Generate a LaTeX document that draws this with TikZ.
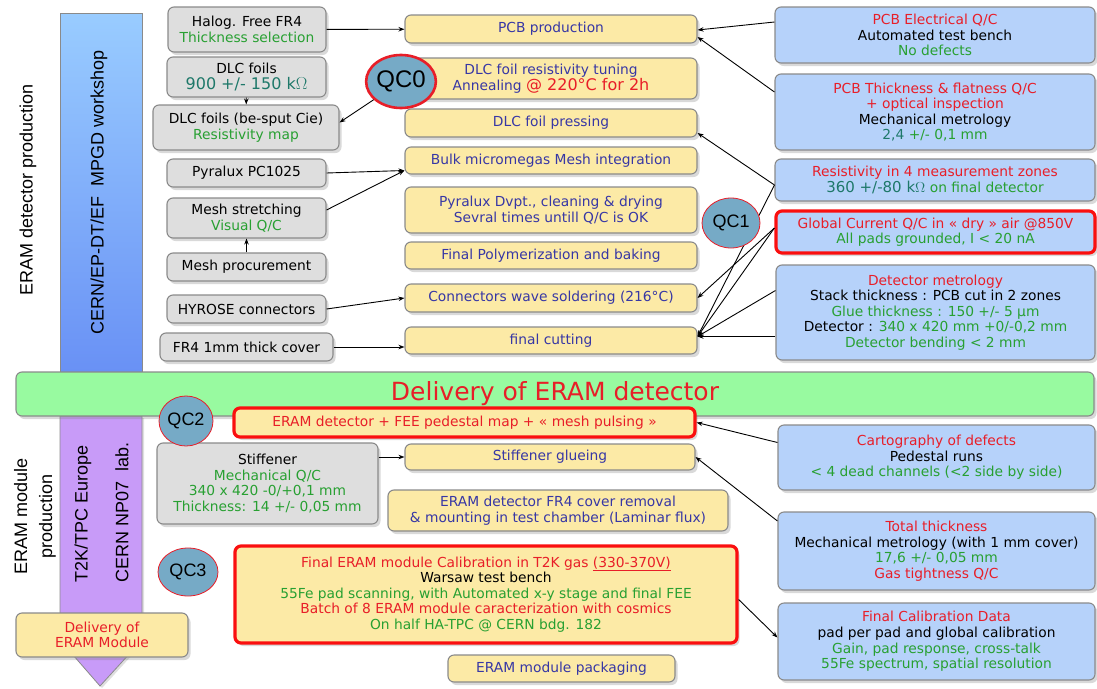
\documentclass[tikz,border=0pt]{standalone}
\usepackage{fontspec}
\setmainfont{DejaVu Sans}
\newfontfamily\arialf{Liberation Sans}
\usetikzlibrary{shapes.geometric,shadows,arrows.meta,calc}
\definecolor{gfill}{RGB}{222,222,222}
\definecolor{yfill}{RGB}{252,234,166}
\definecolor{bfill}{RGB}{182,210,250}
\definecolor{grfill}{RGB}{152,250,160}
\definecolor{pfill}{RGB}{200,155,248}
\definecolor{btop}{RGB}{153,204,255}
\definecolor{bbot}{RGB}{105,145,245}
\definecolor{qcfill}{RGB}{118,170,198}
\definecolor{bordc}{RGB}{138,138,138}
\definecolor{tblue}{RGB}{55,55,165}
\definecolor{tred}{RGB}{232,30,40}
\definecolor{tgreen}{RGB}{40,160,50}
\definecolor{tteal}{RGB}{30,120,105}
\definecolor{fred}{RGB}{250,15,15}
\newcommand{\mfs}{\fontsize{13.8}{15.6}\selectfont}
\newcommand{\bfs}{\fontsize{16}{15.6}\selectfont}
\begin{document}
\begin{tikzpicture}[x=1pt,y=-1pt,
  box/.style={rounded corners=6pt, draw=bordc, line width=1.1pt, align=center, inner sep=2pt, font=\mfs,
    drop shadow={shadow xshift=2.5pt,shadow yshift=-3pt,opacity=0.3}},
  gbox/.style={box, fill=gfill},
  ybox/.style={box, fill=yfill, text=tblue},
  bbox/.style={box, fill=bfill},
  redframe/.style={draw=fred, line width=3.2pt},
  qc/.style={ellipse, draw=tred, line width=0.8pt, fill=qcfill, inner sep=0pt, font=\arialf\fontsize{18}{20}\selectfont},
  arr/.style={-{Stealth[length=6pt,width=4.5pt]}, line width=0.9pt},
  vlabel/.style={rotate=90, font=\arialf\fontsize{18}{25}\selectfont, inner sep=0pt}
]
\useasboundingbox (0,0) rectangle (1097,688);

% vertical bars
\draw[bordc, line width=0.8pt, top color=btop, bottom color=bbot] (60,13) rectangle (142,372);
\draw[bordc, line width=0.8pt, fill=pfill, drop shadow={shadow xshift=2pt,shadow yshift=-2pt,opacity=0.25}]
  (60,416) -- (142,416) -- (142,640) -- (100,686) -- (60,640) -- cycle;

\node[vlabel] (lblcern) at (99,192) {CERN/EP-DT/EF\ \ MPGD workshop};
\node[vlabel] (lblprod) at (28,190) {ERAM detector production};
\node[vlabel, align=center] (lblmod) at (35,516) {ERAM module\\production};
\node[vlabel, anchor=west] (lblt2k) at (83,583) {T2K/TPC Europe};
\node[vlabel, anchor=west] (lblnp) at (122,583) {CERN NP07\ \ lab.};

% green bar
\node[box, fill=grfill, minimum width=1078pt, minimum height=44pt, font=\fontsize{25}{28}\selectfont, text=tred] (deliv) at (555,394) {Delivery of ERAM detector};

% gray boxes
\node[gbox, minimum width=158pt, minimum height=45pt] (halog) at (247,29.5) {Halog. Free FR4\\\textcolor{tgreen}{Thickness selection}};
\node[gbox, minimum width=159pt, minimum height=40pt] (dlc) at (246.5,77) {DLC foils\\{\bfs\textcolor{tteal}{900 +/- 150 k$\Omega$}}};
\node[gbox, minimum width=186pt, minimum height=45pt] (dlcb) at (246,127.5) {DLC foils (be-sput Cie)\\\textcolor{tgreen}{Resistivity map}};
\node[gbox, minimum width=159pt, minimum height=28pt] (pyr) at (246.5,173) {Pyralux PC1025};
\node[gbox, minimum width=159pt, minimum height=40pt] (mesh) at (246.5,218) {Mesh stretching\\\textcolor{tgreen}{Visual Q/C}};
\node[gbox, minimum width=159pt, minimum height=28pt] (meshp) at (246.5,267) {Mesh procurement};
\node[gbox, minimum width=159pt, minimum height=28pt] (hyr) at (246.5,309) {HYROSE connectors};
\node[gbox, minimum width=173pt, minimum height=28pt] (fr4) at (246.5,347) {FR4 1mm thick cover};
\node[gbox, minimum width=221pt, minimum height=81pt] (stiff) at (267.5,483.5) {Stiffener\\\textcolor{tgreen}{Mechanical Q/C}\\\textcolor{tgreen}{340 x 420 -0/+0,1 mm}\\\textcolor{tgreen}{Thickness: 14 +/- 0,05 mm}};

% yellow boxes
\node[ybox, minimum width=292pt, minimum height=28pt] (pcb) at (551,29) {PCB production};
\node[ybox, minimum width=292pt, minimum height=41pt] (dlct) at (551,78.5) {DLC foil resistivity tuning\\Annealing {\bfs\textcolor{tred}{@ 220°C for 2h}}};
\node[ybox, minimum width=292pt, minimum height=28pt] (dlcp) at (551,123) {DLC foil pressing};
\node[ybox, minimum width=292pt, minimum height=27pt] (bulk) at (551,160.5) {Bulk micromegas Mesh integration};
\node[ybox, minimum width=292pt, minimum height=46pt] (pyrd) at (551,210) {Pyralux Dvpt., cleaning \& drying\\Sevral times untill Q/C is OK};
\node[ybox, minimum width=292pt, minimum height=27pt] (poly) at (551,255.5) {Final Polymerization and baking};
\node[ybox, minimum width=292pt, minimum height=28pt] (conn) at (551,298) {Connectors wave soldering (216°C)};
\node[ybox, minimum width=292pt, minimum height=27pt] (cut) at (551,340.5) {final cutting};
\node[ybox, redframe, minimum width=461pt, minimum height=29pt, text=tred] (fee) at (464.5,422.5) {ERAM detector + FEE pedestal map + « mesh pulsing »};
\node[ybox, minimum width=290pt, minimum height=26pt] (glue) at (550,457) {Stiffener glueing};
\node[ybox, minimum width=340pt, minimum height=41pt] (cover) at (558,510.5) {ERAM detector FR4 cover removal\\\& mounting in test chamber (Laminar flux)};
\node[ybox, redframe, minimum width=502pt, minimum height=97pt, text=black] (calib) at (486,594.5) {\textcolor{tred}{Final ERAM module Calibration in T2K gas \underline{(330-370V)}}\\Warsaw test bench\\\textcolor{tgreen}{55Fe pad scanning, with Automated x-y stage and final FEE}\\\textcolor{tred}{Batch of 8 ERAM module caracterization with cosmics}\\\textcolor{tgreen}{On half HA-TPC @ CERN bdg. 182}};
\node[ybox, minimum width=227pt, minimum height=27pt] (pack) at (561.5,668.5) {ERAM module packaging};
\node[ybox, minimum width=172pt, minimum height=44pt, text=tred] (delmod) at (102,635) {Delivery of\\ERAM Module};

% blue boxes
\node[bbox, minimum width=320pt, minimum height=56pt] (elec) at (935,35) {\textcolor{tred}{PCB Electrical Q/C}\\Automated test bench\\\textcolor{tgreen}{No defects}};
\node[bbox, minimum width=320pt, minimum height=76pt] (thick) at (935,112) {\textcolor{tred}{PCB Thickness \& flatness Q/C}\\\textcolor{tred}{+ optical inspection}\\Mechanical metrology\\\textcolor{tteal}{2,4} \textcolor{tgreen}{+/- 0,1 mm}};
\node[bbox, minimum width=320pt, minimum height=42pt] (resist) at (935,180) {\textcolor{tred}{Resistivity in 4 measurement zones}\\{\fontsize{15}{15.6}\selectfont\textcolor{tteal}{360 +/-80 k$\Omega$}} \textcolor{tgreen}{on final detector}};
\node[bbox, redframe, minimum width=319pt, minimum height=42pt] (glob) at (935.5,232) {\textcolor{tred}{Global Current Q/C in « dry » air @850V}\\\textcolor{tgreen}{All pads grounded, I < 20 nA}};
\node[bbox, minimum width=319pt, minimum height=95pt] (metro) at (935.5,312.5) {\textcolor{tred}{Detector metrology}\\Stack thickness : PCB cut in 2 zones\\\textcolor{tgreen}{Glue thickness : 150 +/- 5 µm}\\Detector : \textcolor{tgreen}{340 x 420 mm +0/-0,2 mm}\\\textcolor{tgreen}{Detector bending < 2 mm}};
\node[bbox, minimum width=317pt, minimum height=65pt] (carto) at (936.5,457.5) {\textcolor{tred}{Cartography of defects}\\Pedestal runs\\\textcolor{tgreen}{< 4 dead channels (<2 side by side)}};
\node[bbox, minimum width=317pt, minimum height=78pt] (tot) at (936.5,551) {\textcolor{tred}{Total thickness}\\Mechanical metrology (with 1 mm cover)\\\textcolor{tgreen}{17,6 +/- 0,05 mm}\\\textcolor{tred}{Gas tightness Q/C}};
\node[bbox, minimum width=317pt, minimum height=77pt] (fcal) at (936.5,641.5) {\textcolor{tred}{Final Calibration Data}\\pad per pad and global calibration\\\textcolor{tgreen}{Gain, pad response, cross-talk}\\\textcolor{tgreen}{55Fe spectrum, spatial resolution}};

% connectors
\draw[arr] (halog) -- (pcb);
\draw[arr] (dlc) -- (dlcb);
\draw[arr] (pyr.east) -- ([yshift=-10pt]bulk.west);
\draw[arr] ([yshift=8pt]mesh.east) -- ([yshift=-10pt]bulk.west);
\draw[arr] (meshp) -- (mesh);
\draw[arr] (hyr.east) -- (conn.west);
\draw[arr] (fr4.east) -- (fr4.east -| cut.west);
\draw[arr] ([yshift=13pt]elec.west) -- ([yshift=-1pt]pcb.east);
\draw[arr] ([yshift=20pt]thick.west) -- ([yshift=-8pt]pcb.east);
\draw[arr] ([yshift=-5pt]resist.west) -- ([yshift=-10pt]dlcp.east);
\draw[arr] ([yshift=-5pt]resist.west) -- ([yshift=4pt]cut.east);
\draw[arr] ([yshift=4pt]glob.west) -- (conn.east);
\draw[arr] ([yshift=4pt]glob.west) -- ([yshift=4pt]cut.east);
\draw[arr] ([yshift=22pt]metro.west) -- ([yshift=4pt]cut.east);
\draw[arr] ([yshift=-24pt]metro.west) -- ([yshift=4pt]cut.east);
\draw[arr] (stiff.east |- glue.west) -- (glue.west);
\draw[arr] ([yshift=15pt]carto.west) -- (fee.east);
\draw[arr] ([yshift=30pt]tot.west) -- (glue.east);
\draw[arr] ([yshift=-5pt]calib.east) -- ([yshift=4pt]fcal.west);

% QC ellipses
\node[qc, line width=2.6pt, minimum width=62pt, minimum height=53pt, font=\arialf\fontsize{24}{26}\selectfont] (qc0) at (401,81.5) {QC0};
\draw[arr] (qc0) -- ([yshift=5pt]dlcb.east);
\node[qc, minimum width=58pt, minimum height=50pt] (qc1) at (731,223) {QC1};
\node[qc, minimum width=54pt, minimum height=50pt] (qc2) at (186,421) {QC2};
\node[qc, minimum width=60pt, minimum height=48pt] (qc3) at (188,572) {QC3};
\end{tikzpicture}
\end{document}
